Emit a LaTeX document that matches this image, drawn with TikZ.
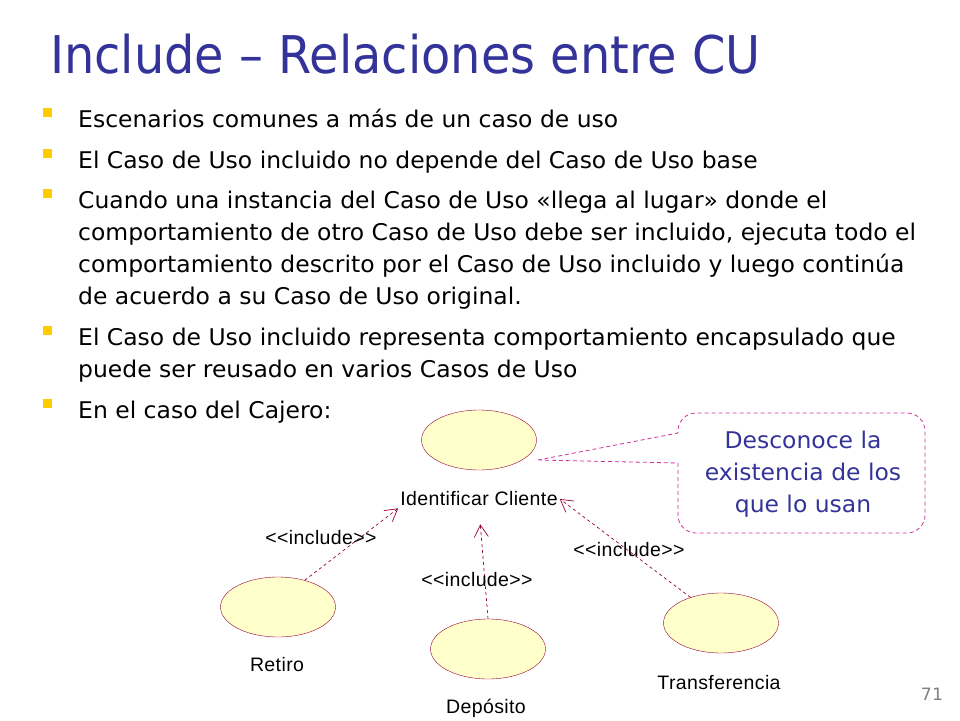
\documentclass[tikz,border=0pt]{standalone}
\usepackage{fontspec}
\setmainfont{DejaVu Sans}[FakeStretch=1.02]
\newfontfamily\titlefont{DejaVu Sans}[FakeStretch=0.92]
\newfontfamily\umlfont{Liberation Sans}[LetterSpace=2]
\usetikzlibrary{shapes.geometric,arrows.meta}
\definecolor{titleblue}{RGB}{51,51,153}
\definecolor{bulletyellow}{RGB}{255,204,0}
\definecolor{usefill}{RGB}{255,255,204}
\definecolor{umlred}{RGB}{153,0,51}
\definecolor{notepink}{RGB}{204,51,153}

\begin{document}
\begin{tikzpicture}[x=1pt, y=-1pt,
    main/.style = {draw=umlred, fill=usefill, ellipse, minimum width=115pt, minimum height=60pt, inner sep=0pt},
    lbl/.style = {font=\umlfont\fontsize{19.5}{22}\selectfont, inner sep=2pt},
    inc/.style = {draw=umlred, dashed, dash pattern=on 3pt off 3pt, line width=0.7pt, -{Straight Barb[length=12pt, width=14pt]}},
    txt/.style = {anchor=base west, inner sep=0pt, font=\fontsize{23}{28}\selectfont},
    bul/.style = {fill=bulletyellow, minimum size=9pt, inner sep=0pt, anchor=north west}]
    \useasboundingbox (0,0) rectangle (960,720);

    % title and bullets
    \node[anchor=base west, inner sep=0pt, text=titleblue, font=\titlefont\fontsize{52}{60}\selectfont] (title) at (50,73) {Include – Relaciones entre CU};
    \node[txt] (t1) at (78,127) {Escenarios comunes a más de un caso de uso};
    \node[txt] (t2) at (78,168) {El Caso de Uso incluido no depende del Caso de Uso base};
    \node[txt] (t3) at (78,208) {Cuando una instancia del Caso de Uso «llega al lugar» donde el};
    \node[txt] (t3b) at (78,240) {comportamiento de otro Caso de Uso debe ser incluido, ejecuta todo el};
    \node[txt] (t3c) at (78,272) {comportamiento descrito por el Caso de Uso incluido y luego continúa};
    \node[txt] (t3d) at (78,304) {de acuerdo a su Caso de Uso original.};
    \node[txt] (t4) at (78,345) {El Caso de Uso incluido representa comportamiento encapsulado que};
    \node[txt] (t4b) at (78,377) {puede ser reusado en varios Casos de Uso};
    \node[txt] (t5) at (78,418) {En el caso del Cajero:};
    \foreach \y in {127,168,208,345,418}
        \node[bul] at (43,\y-19) {};

    % use cases
    \node[main] (1) at (479,440) {};
    \node[lbl] (1l) at (479,499) {Identificar Cliente};
    \node[main] (2) at (278,607) {};
    \node[lbl] (2l) at (277,665) {Retiro};
    \node[main] (3) at (488,649) {};
    \node[lbl] (3l) at (486,708) {Depósito};
    \node[main] (4) at (721,623) {};
    \node[lbl] (4l) at (719,683) {Transferencia};

    \draw[inc] (2.45) -- (1l.south west);
    \draw[inc, shorten >=16pt] (3.north) -- (1l.south);
    \draw[inc] (4.140) -- (1l.east);
    \node[lbl] (e1) at (321,538) {<<include>>};
    \node[lbl] (e2) at (477,580) {<<include>>};
    \node[lbl] (e3) at (629,550) {<<include>>};

    % note
    \draw[notepink, dashed, dash pattern=on 4pt off 3pt, line width=0.8pt]
        (538,460) -- (678,463) [rounded corners=18pt] -- (678,533) -- (925,533) -- (925,413) -- (678,413) [sharp corners] -- (678,433) -- cycle;
    \node[align=center, text=titleblue, font=\fontsize{23}{32}\selectfont] (note) at (803,474) {Desconoce la\\existencia de los\\que lo usan};

    \node[text=gray, font=\fontsize{17}{18}\selectfont] (page) at (932,694) {71};
\end{tikzpicture}
\end{document}
